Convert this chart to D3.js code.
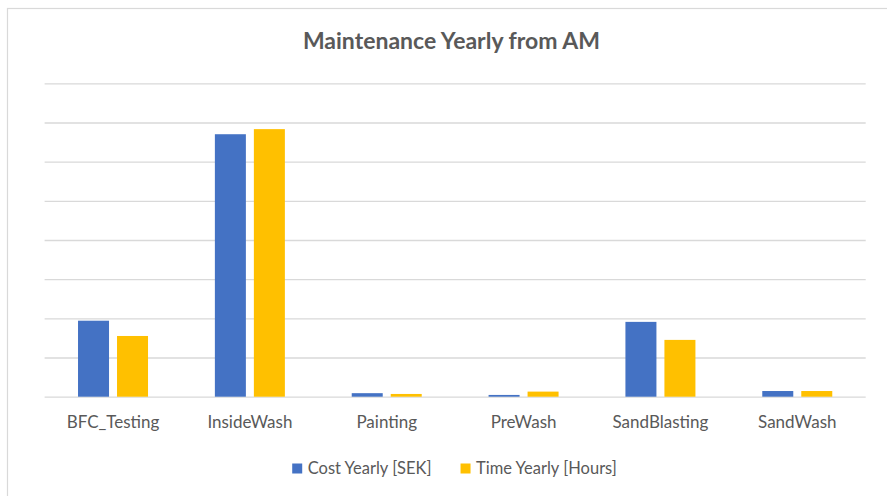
<!DOCTYPE html>
<html>
<head>
<meta charset="utf-8">
<script src="https://cdn.jsdelivr.net/npm/d3@7"></script>
<style>
  body { margin: 0; background: #fff; }
  svg { display: block; font-family: Lato, "Open Sans", sans-serif; }
</style>
</head>
<body>
<svg width="887" height="496"></svg>
<script>
// values, in gridline units (the chart shows no axis labels)
const categories = ['BFC_Testing', 'InsideWash', 'Painting', 'PreWash', 'SandBlasting', 'SandWash'];
const costYearly = [1.94, 6.70, 0.09, 0.045, 1.91, 0.145];
const timeYearly = [1.55, 6.83, 0.07, 0.13, 1.45, 0.145];
const seriesNames = ['Cost Yearly [SEK]', 'Time Yearly [Hours]'];
const gridTicks = [0, 1, 2, 3, 4, 5, 6, 7, 8];

const colors = ['#4472c4', '#ffc000'];
const textColor = '#595959';
const gridColor = '#d9d9d9';

const svg = d3.select('svg');

const plot = { left: 44.6, right: 865.7, top: 83.3, bottom: 396.7 };

// chart frame (runs off the right and bottom edges)
svg.append('rect')
  .attr('x', 7.5)
  .attr('y', 8.5)
  .attr('width', 900)
  .attr('height', 500)
  .attr('fill', 'none')
  .attr('stroke', gridColor)
  .attr('stroke-width', 1.2);

const x0 = d3.scaleBand()
  .domain(categories)
  .range([plot.left, plot.right])
  .padding(0);

const x1 = d3.scaleBand()
  .domain(seriesNames)
  .range([x0.bandwidth() / 2 - 35, x0.bandwidth() / 2 + 35])
  .paddingInner(0.205);

const y = d3.scaleLinear()
  .domain([0, 8])
  .range([plot.bottom, plot.top]);

// horizontal grid lines
svg.append('g')
  .attr('class', 'grid')
  .attr('transform', `translate(${plot.left}, 0)`)
  .call(d3.axisLeft(y)
    .tickValues(gridTicks)
    .tickSize(-(plot.right - plot.left))
    .tickFormat(''))
  .call(g => g.select('.domain').remove())
  .call(g => g.selectAll('line')
    .attr('stroke', gridColor)
    .attr('stroke-width', 1.3));

// bars
const table = categories.map((c, i) => ({
  category: c,
  values: [costYearly[i], timeYearly[i]]
}));

const groups = svg.selectAll('.group')
  .data(table)
  .enter()
  .append('g')
  .attr('class', 'group')
  .attr('transform', (d) => `translate(${x0(d.category)}, 0)`);

groups.selectAll('rect')
  .data((d) => d.values.map((v, k) => ({ series: seriesNames[k], value: v, k })))
  .enter()
  .append('rect')
  .attr('x', (d) => x1(d.series))
  .attr('y', (d) => y(d.value))
  .attr('width', x1.bandwidth())
  .attr('height', (d) => y(0) - y(d.value))
  .attr('fill', (d) => colors[d.k]);

// category labels
const xAxis = svg.append('g')
  .attr('transform', `translate(0, ${plot.bottom})`)
  .call(d3.axisBottom(x0).tickSize(0).tickPadding(0));
xAxis.select('.domain').remove();
xAxis.selectAll('text')
  .attr('y', 31)
  .attr('dy', null)
  .attr('fill', textColor)
  .style('font-size', '17px')
  .style('font-family', 'Lato, sans-serif');

// title
svg.append('text')
  .attr('x', 451.5)
  .attr('y', 49)
  .attr('text-anchor', 'middle')
  .attr('fill', textColor)
  .style('font-size', '23px')
  .style('font-weight', 'bold')
  .text('Maintenance Yearly from AM');

// legend
const legend = svg.append('g');
let lx = 0;
seriesNames.forEach((name, k) => {
  const item = legend.append('g').attr('transform', `translate(${lx}, 0)`);
  item.append('rect')
    .attr('x', 0)
    .attr('y', -10)
    .attr('width', 10)
    .attr('height', 10)
    .attr('fill', colors[k]);
  const t = item.append('text')
    .attr('x', 15.5)
    .attr('y', 0)
    .attr('fill', textColor)
    .style('font-size', '16.5px')
    .text(name);
  lx += 15.5 + t.node().getComputedTextLength() + 29;
});
const legendWidth = lx - 29;
legend.attr('transform', `translate(${454.5 - legendWidth / 2}, 473.5)`);
</script>
</body>
</html>
